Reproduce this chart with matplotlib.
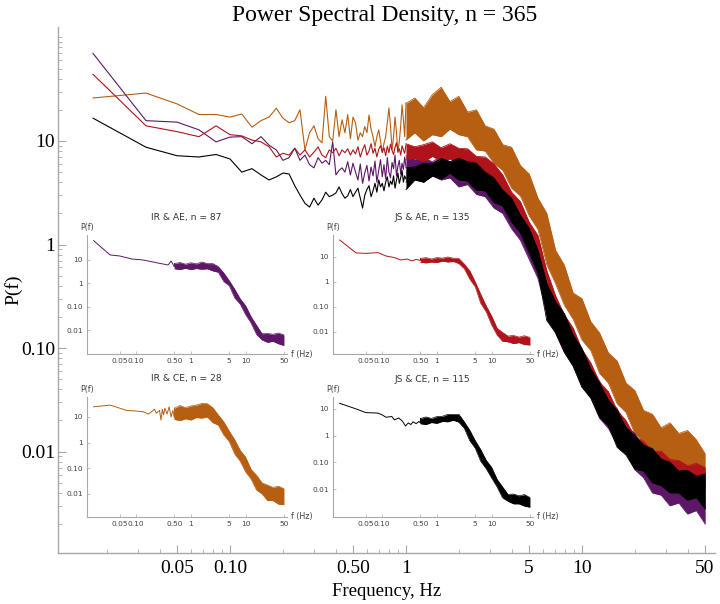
"""Power spectral density: main log-log plot plus four per-group insets."""

import numpy as np
import matplotlib
matplotlib.use("Agg")
import matplotlib.pyplot as plt
from matplotlib.ticker import FixedLocator, FixedFormatter, NullFormatter

C_ORANGE = "#B65E12"
C_PURPLE = "#5C1766"
C_RED = "#B0141A"
C_BLACK = "#000000"

# ---- main panel -----------------------------------------------------------
# resolved low-frequency bins, f = k/60 Hz (k = 1..60, up to 1 Hz)
k_low = np.arange(1, 61)
f_low = k_low / 60.0
orange_low = [26, 29, 22.8, 18, 18, 17, 18.2, 13.6, 15.7, 17, 20.7, 16.6, 15, 15.7, 20,
              8.2, 12, 14, 10.5, 9.6, 27, 11, 10, 20, 11, 16, 12, 18, 10.5, 17,
              15, 10.2, 12, 11, 13.8, 12, 17.8, 13, 11, 8.8, 11, 12.8, 10, 7.7, 9.5,
              11, 15, 20.8, 14, 8.2, 11, 17, 12, 7.7, 10, 14, 22.3, 16, 11, 23.3]
purple_low = [70, 15.7, 15.2, 12.8, 9.8, 10.9, 11, 9.4, 11, 9.1, 8.2, 6.5, 6.9, 8.5, 6.5,
              7.3, 5.9, 5.5, 6.9, 6.1, 6.5, 5.9, 9.8, 4.7, 5.2, 5.5, 5.0, 6.3, 4.7, 6.1,
              5.0, 4.2, 6.0, 3.9, 4.9, 5.8, 4.1, 5.6, 4.6, 6.4, 4.0, 5.2, 6.6, 4.5, 5.9,
              4.3, 6.9, 5.0, 4.4, 6.2, 5.4, 7.3, 4.6, 5.7, 6.5, 4.8, 6.1, 5.3, 7.0, 5.6]
red_low = [44, 14, 12.3, 11, 14, 11.5, 11.2, 10.2, 9.8, 8.8, 7.0, 7.6, 7.3, 8.5, 7.3,
           8.2, 7.0, 7.8, 8.75, 7.3, 6.9, 8.2, 7.7, 8.5, 7.2, 8.2, 7.7, 8.4, 7.3, 8.2,
           7.5, 8.8, 7.0, 8.2, 9.2, 7.3, 8.0, 9.4, 7.6, 8.5, 7.0, 8.3, 9.0, 7.8, 8.6,
           7.2, 8.9, 7.7, 9.3, 8.1, 7.4, 8.7, 9.6, 7.9, 8.4, 7.3, 9.0, 8.2, 7.6, 9.2]
black_low = [16.6, 8.7, 7.2, 7.0, 7.4, 6.7, 5.0, 5.4, 4.7, 4.2, 4.5, 4.9, 4.8, 3.7, 3.0,
             2.5, 2.3, 2.8, 2.4, 2.7, 3.2, 2.9, 3.0, 3.15, 3.6, 3.1, 2.8, 2.95, 3.4, 2.9,
             3.2, 3.5, 2.8, 2.25, 3.0, 3.4, 3.7, 2.9, 3.3, 3.9, 3.2, 4.2, 3.6, 3.9, 3.3,
             4.0, 4.5, 3.6, 4.1, 3.8, 4.6, 3.5, 4.2, 4.9, 3.9, 4.4, 5.2, 4.0, 4.6, 4.3]

# dense part (1 - 50 Hz): upper / lower envelope of the noisy band
f_band = np.logspace(0.0, 1.70, 35)
orange_hi = [23, 26, 21, 28, 33, 24, 27, 19, 20, 14, 13, 9.2, 8.7, 5.8, 4.8, 2.8, 2.0,
             0.88, 0.63, 0.34, 0.30, 0.18, 0.14, 0.09, 0.075, 0.046, 0.039, 0.025, 0.023,
             0.017, 0.019, 0.015, 0.016, 0.013, 0.0095]
orange_lo = [10.2, 12, 10, 11.5, 11, 13, 11.5, 11, 8.2, 8, 6.1, 5.2, 3.5, 2.95, 1.9, 1.4,
             0.64, 0.42, 0.26, 0.19, 0.12, 0.095, 0.057, 0.046, 0.029, 0.024, 0.015,
             0.0125, 0.0087, 0.0078, 0.0062, 0.0066, 0.0055, 0.0056, 0.0048]
red_hi = [9.4, 8.8, 9.2, 9.8, 8.6, 9.4, 8.5, 8.4, 7.1, 7.0, 6.0, 4.7, 3.2, 2.6, 1.65, 1.22,
          0.56, 0.32, 0.21, 0.156, 0.097, 0.072, 0.047, 0.038, 0.025, 0.020, 0.014,
          0.0126, 0.0099, 0.0101, 0.0084, 0.0082, 0.0073, 0.0077, 0.0070]
red_lo = [6.6, 6.8, 6.3, 7.1, 6.4, 6.7, 6.0, 6.0, 5.2, 4.8, 4.0, 3.1, 2.15, 1.68, 1.05,
          0.71, 0.28, 0.175, 0.12, 0.089, 0.059, 0.046, 0.030, 0.0245, 0.0162, 0.0129,
          0.0091, 0.0080, 0.0066, 0.0064, 0.0055, 0.0052, 0.0048, 0.0049, 0.0043]
purple_hi = [7.2, 6.7, 6.9, 6.3, 7.1, 6.3, 6.4, 5.2, 4.9, 4.0, 3.5, 2.55, 2.25, 1.58,
             1.24, 0.76, 0.47, 0.28, 0.2, 0.128, 0.095, 0.061, 0.048, 0.032, 0.026, 0.018,
             0.015, 0.011, 0.0103, 0.0087, 0.0082, 0.0068, 0.0072, 0.0063, 0.0065]
purple_lo = [4.0, 4.6, 4.0, 4.6, 4.2, 4.4, 3.6, 3.8, 3.05, 2.9, 2.25, 2.0, 1.42, 1.1, 0.72,
             0.47, 0.22, 0.14, 0.091, 0.067, 0.042, 0.033, 0.021, 0.0168, 0.0118, 0.0096,
             0.0067, 0.0056, 0.0040, 0.0038, 0.0030, 0.0032, 0.0025, 0.0027, 0.0020]
black_hi = [5.5, 5.6, 6.1, 6.0, 6.8, 6.3, 6.8, 6.3, 6.1, 5.0, 4.4, 3.35, 2.8, 1.92, 1.44,
            0.88, 0.42, 0.28, 0.215, 0.134, 0.099, 0.063, 0.046, 0.0315, 0.025, 0.0172,
            0.0143, 0.0116, 0.0107, 0.0085, 0.0079, 0.0065, 0.0066, 0.0058, 0.0061]
black_lo = [3.4, 4.2, 4.0, 4.6, 4.3, 4.9, 4.2, 4.1, 3.35, 3.3, 2.55, 2.35, 1.65, 1.3,
            0.84, 0.53, 0.185, 0.14, 0.091, 0.067, 0.042, 0.033, 0.0215, 0.0177, 0.011,
            0.0093, 0.0068, 0.0065, 0.0050, 0.0047, 0.0040, 0.0040, 0.0034, 0.0036, 0.0028]

x_ticks = [0.05, 0.1, 0.5, 1, 5, 10, 50]
x_ticklabels = ["0.05", "0.10", "0.50", "1", "5", "10", "50"]
y_ticks = [0.01, 0.1, 1, 10]
y_ticklabels = ["0.01", "0.10", "1", "10"]

# ---- insets ----------------------------------------------------------------
inset_band_f = np.logspace(-0.3, 1.7, 21)

ir_ae_f = np.array([1, 2, 3, 5, 8, 15, 23, 26, 30]) / 60.0
ir_ae_p = [67, 16.4, 14.8, 11, 10, 7.4, 6.1, 9.1, 5.0]
ir_ae_hi = [7.0, 7.8, 6.6, 7.6, 6.8, 8.2, 7.0, 7.0, 5.2, 2.8, 1.3, 0.56, 0.22, 0.11, 0.037,
            0.016, 0.007, 0.0072, 0.0066, 0.0075, 0.0062]
ir_ae_lo = [4.2, 3.9, 4.4, 3.9, 4.3, 4.0, 4.2, 3.4, 3.0, 1.2, 0.8, 0.24, 0.13, 0.046, 0.02,
            0.0065, 0.0038, 0.003, 0.0033, 0.0026, 0.0022]

js_ae_f = np.array([1, 2, 3, 4, 5, 7, 10, 13, 17, 21, 25, 30]) / 60.0
js_ae_p = [48, 14.5, 14, 14.5, 15, 11, 9.5, 7.6, 8.3, 7.0, 8.0, 7.2]
js_ae_hi = [8.8, 9.4, 8.3, 9.5, 9.0, 10, 8.9, 8.8, 5.2, 2.8, 1.0, 0.32, 0.11, 0.043, 0.014,
            0.0095, 0.0068, 0.0072, 0.0062, 0.007, 0.006]
js_ae_lo = [6.2, 5.8, 6.3, 6.0, 6.8, 6.3, 6.6, 5.5, 3.4, 1.3, 0.64, 0.14, 0.064, 0.019,
            0.0075, 0.0042, 0.004, 0.0034, 0.0037, 0.0031, 0.003]

ir_ce_f = np.array([1, 2, 3, 4, 6, 8, 10, 11, 13, 14, 15, 16, 17, 18, 19, 20, 22, 24, 26,
                    28, 30]) / 60.0
ir_ce_p = [25, 29, 22, 18, 17, 16, 13, 15, 20, 14, 16, 18, 7.6, 20, 12, 22, 13, 25, 10,
           18, 9]
ir_ce_hi = [22, 28, 23, 27, 29, 34, 33, 23, 12, 6.5, 2.8, 1.3, 0.5, 0.27, 0.09, 0.053,
            0.027, 0.022, 0.018, 0.02, 0.016]
ir_ce_lo = [8, 7.2, 8.5, 7.6, 9.5, 9, 10, 6, 4.8, 2, 1.1, 0.36, 0.19, 0.072, 0.038, 0.014,
            0.01, 0.0055, 0.0055, 0.004, 0.0038]

js_ce_f = np.array([1, 2, 3, 5, 6, 7, 9, 10, 12, 14, 16, 18, 20, 22, 25, 28, 30]) / 60.0
js_ce_p = [16.3, 10, 7.3, 7, 6.0, 4.9, 5.2, 3.9, 4.6, 3.5, 2.3, 3.0, 2.6, 3.3, 2.8, 3.4,
           3.0]
js_ce_hi = [4.4, 5.0, 4.4, 5.2, 5.3, 6.3, 6.2, 6.3, 3.3, 1.6, 0.65, 0.3, 0.12, 0.065, 0.023,
            0.012, 0.0063, 0.0065, 0.0056, 0.0062, 0.0048]
js_ce_lo = [2.8, 2.6, 3.1, 2.9, 3.4, 3.3, 3.8, 3.2, 1.9, 0.65, 0.34, 0.11, 0.058, 0.026,
            0.012, 0.0047, 0.0035, 0.0028, 0.0028, 0.0023, 0.0021]

SERIF = "Liberation Serif"
SANS = "DejaVu Sans"
AXIS_GRAY = "#a8a8a8"
TEXT_GRAY = "#444444"


def minor_positions(lo_exp, hi_exp, majors):
    out = []
    for e in range(lo_exp, hi_exp + 1):
        for m in range(1, 10):
            v = m * 10.0 ** e
            if not any(abs(v - t) / t < 1e-6 for t in majors):
                out.append(v)
    return out


def draw_band(a, f, hi, lo, col, z, lw):
    a.fill_between(f, lo, hi, color=col, lw=0, zorder=z)
    a.plot(f, hi, color=col, lw=lw, zorder=z)
    a.plot(f, lo, color=col, lw=lw, zorder=z)


fig = plt.figure(figsize=(7.2, 6.04), dpi=100)
ax = fig.add_axes([58 / 720, 1 - 553 / 604, 657 / 720, 526 / 604])

series = [(orange_low, orange_hi, orange_lo, C_ORANGE),
          (purple_low, purple_hi, purple_lo, C_PURPLE),
          (red_low, red_hi, red_lo, C_RED),
          (black_low, black_hi, black_lo, C_BLACK)]
for z, (low, hi, lo, col) in enumerate(series):
    ax.plot(f_low, low, color=col, lw=0.8, zorder=2 + z)
    draw_band(ax, f_band, hi, lo, col, 2 + z, 0.6)

ax.set_xscale("log")
ax.set_yscale("log")
ax.set_xlim(0.01054, 57.0)
ax.set_ylim(0.00105, 126)
for s in ("top", "right"):
    ax.spines[s].set_visible(False)
for s in ("left", "bottom"):
    ax.spines[s].set_color(AXIS_GRAY)
    ax.spines[s].set_linewidth(1.0)

ax.xaxis.set_major_locator(FixedLocator(x_ticks))
ax.xaxis.set_major_formatter(FixedFormatter(x_ticklabels))
ax.xaxis.set_minor_locator(FixedLocator(minor_positions(-2, 1, x_ticks)))
ax.xaxis.set_minor_formatter(NullFormatter())
ax.yaxis.set_major_locator(FixedLocator(y_ticks))
ax.yaxis.set_major_formatter(FixedFormatter(y_ticklabels))
ax.yaxis.set_minor_locator(FixedLocator(minor_positions(-3, 2, y_ticks)))
ax.yaxis.set_minor_formatter(NullFormatter())
ax.tick_params(which="major", direction="in", length=6, width=0.8, color=AXIS_GRAY,
               labelsize=14)
ax.tick_params(axis="x", which="major", pad=5)
ax.tick_params(axis="y", which="major", pad=2)
ax.tick_params(which="minor", direction="in", length=3, width=0.6, color=AXIS_GRAY)
for lab in ax.get_xticklabels() + ax.get_yticklabels():
    lab.set_fontfamily(SERIF)

fig.text(13 / 720, 1 - 290 / 604, "P(f)", rotation=90, ha="center", va="center",
         family=SERIF, fontsize=14)
fig.text(387 / 720, 1 - 591 / 604, "Frequency, Hz", ha="center", va="center",
         family=SERIF, fontsize=13.5)
fig.text(385 / 720, 1 - 15 / 604, "Power Spectral Density, n = 365", ha="center",
         va="center", family=SERIF, fontsize=17)


def inset(left_px, top_px, bottom_px, fl, pl, hi, lo, col, title, ylim):
    a = fig.add_axes([left_px / 720, 1 - bottom_px / 604, 200 / 720,
                      (bottom_px - top_px) / 604])
    a.plot(np.append(fl, inset_band_f[0]), np.append(pl, hi[0]), color=col, lw=0.7)
    draw_band(a, inset_band_f, hi, lo, col, 2, 0.5)
    a.set_xscale("log")
    a.set_yscale("log")
    a.set_xlim(0.0126, 57)
    a.set_ylim(*ylim)
    a.patch.set_alpha(0)
    for s in ("top", "right"):
        a.spines[s].set_visible(False)
    for s in ("left", "bottom"):
        a.spines[s].set_color(AXIS_GRAY)
        a.spines[s].set_linewidth(0.8)
    a.xaxis.set_major_locator(FixedLocator(x_ticks))
    a.xaxis.set_major_formatter(FixedFormatter(x_ticklabels))
    a.xaxis.set_minor_locator(FixedLocator([]))
    a.yaxis.set_major_locator(FixedLocator(y_ticks))
    a.yaxis.set_major_formatter(FixedFormatter(y_ticklabels))
    a.yaxis.set_minor_locator(FixedLocator([]))
    a.tick_params(which="major", direction="in", length=2, width=0.5, color=AXIS_GRAY,
                  labelsize=5.3, labelcolor=TEXT_GRAY, pad=3)
    a.text(0.495, 1.15, title, transform=a.transAxes, ha="center", va="center",
           family=SANS, fontsize=6.6, color="#333333")
    a.text(0.0, 1.06, "P(f)", transform=a.transAxes, ha="center", va="center",
           family=SANS, fontsize=5.8, color=TEXT_GRAY)
    a.text(1.02, 0.0, "f (Hz)", transform=a.transAxes, ha="left", va="center",
           family=SANS, fontsize=5.8, color=TEXT_GRAY)
    return a


inset(87, 235, 354, ir_ae_f, ir_ae_p, ir_ae_hi, ir_ae_lo, C_PURPLE,
      "IR & AE, n = 87", (0.00095, 117))
inset(333, 235, 354, js_ae_f, js_ae_p, js_ae_hi, js_ae_lo, C_RED,
      "JS & AE, n = 135", (0.0013, 76))
inset(87, 397, 517, ir_ce_f, ir_ce_p, ir_ce_hi, ir_ce_lo, C_ORANGE,
      "IR & CE, n = 28", (0.00126, 60))
inset(333, 397, 517, js_ce_f, js_ce_p, js_ce_hi, js_ce_lo, C_BLACK,
      "JS & CE, n = 115", (0.0009, 28))

fig.savefig("out.png", dpi=100)
